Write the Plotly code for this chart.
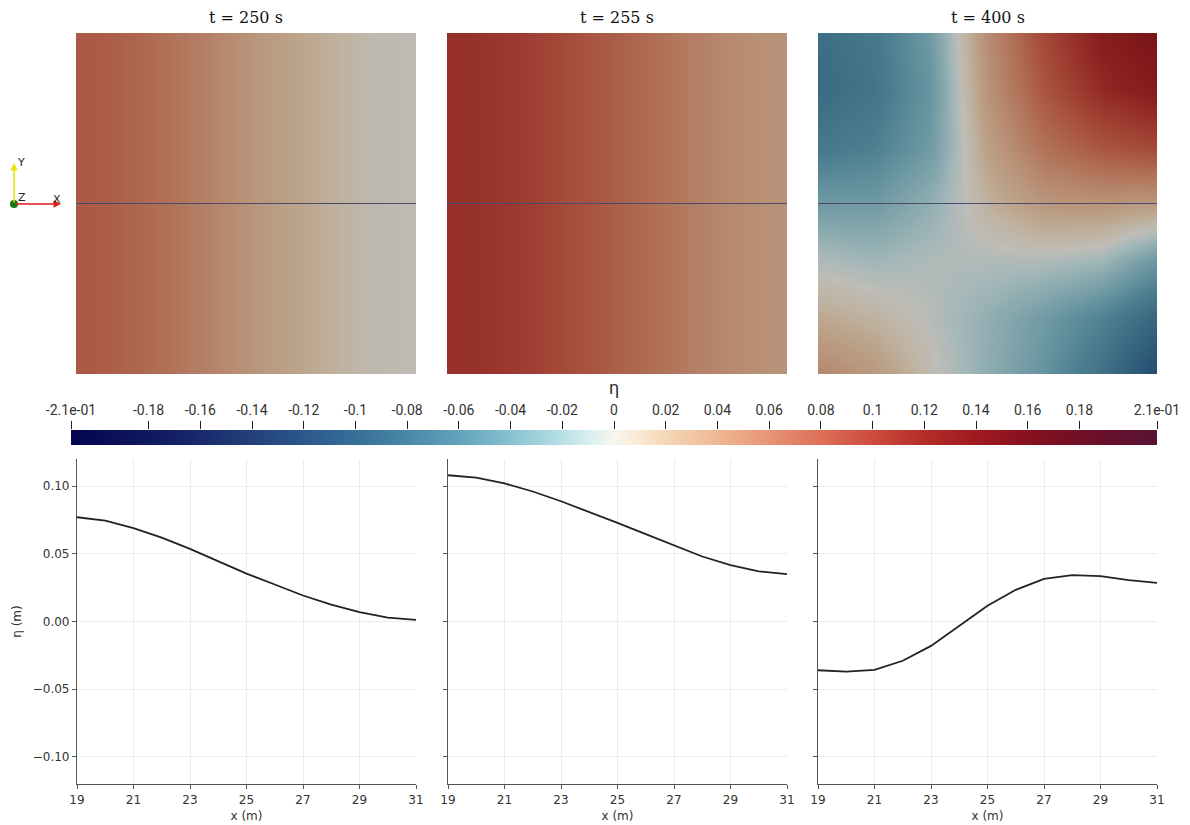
import plotly.graph_objects as go

W, H = 1190, 825

# ---------------- data ----------------
x_probe = [19, 20, 21, 22, 23, 24, 25, 26, 27, 28, 29, 30, 31]
eta_250 = [0.077, 0.0745, 0.069, 0.0619, 0.0536, 0.0445, 0.0354, 0.0273, 0.0192, 0.0125, 0.0069, 0.0028, 0.0012]
eta_255 = [0.108, 0.1063, 0.102, 0.096, 0.0888, 0.081, 0.0728, 0.0645, 0.0563, 0.048, 0.0416, 0.037, 0.035]
eta_400 = [-0.036, -0.037, -0.0357, -0.029, -0.018, -0.0034, 0.0116, 0.0234, 0.0315, 0.0342, 0.0335, 0.0305, 0.0285]

titles = ["t = 250 s", "t = 255 s", "t = 400 s"]

# surface field (top views): columns along x, rows along y
field_y_250 = [-6, 6]
field_250 = [eta_250, eta_250]
field_y_255 = [-6, 6]
field_255 = [eta_255, eta_255]

field_x_400 = [19, 21, 23, 25, 27, 29, 31]
field_y_400 = [-6, -4, -2, 0, 2, 4, 6]
field_400 = [
    [0.045, 0.030, 0.003, -0.020, -0.042, -0.072, -0.110],
    [0.018, 0.010, -0.003, -0.018, -0.035, -0.055, -0.082],
    [-0.006, -0.012, -0.006, -0.005, -0.005, -0.011, -0.038],
    [-0.036, -0.0357, -0.018, 0.0116, 0.0315, 0.0335, 0.0285],
    [-0.065, -0.058, -0.035, 0.025, 0.060, 0.080, 0.090],
    [-0.078, -0.068, -0.040, 0.035, 0.080, 0.112, 0.128],
    [-0.075, -0.065, -0.035, 0.040, 0.090, 0.125, 0.140],
]

# colour map of eta
eta_min, eta_max = -0.21, 0.21
cmap_vals = [-0.21, -0.18, -0.16, -0.14, -0.12, -0.10, -0.08, -0.06, -0.04, -0.02, -0.01, 0.0,
             0.01, 0.02, 0.04, 0.06, 0.08, 0.10, 0.12, 0.14, 0.16, 0.18, 0.21]
cmap_cols = ['#05054f', '#0f195d', '#19296b', '#23407c', '#2c588b', '#376f98', '#4a88a8', '#62a3bb',
             '#88c2d1', '#b8e0e6', '#d6eff1', '#f8f6ee', '#f9e9d3', '#f5d7b7', '#efb794', '#e69474',
             '#dc6f57', '#cc4b3d', '#b52c29', '#9e1a1f', '#86111f', '#701026', '#571235']
cb_tickvals = [-0.21, -0.18, -0.16, -0.14, -0.12, -0.10, -0.08, -0.06, -0.04, -0.02, 0,
               0.02, 0.04, 0.06, 0.08, 0.10, 0.12, 0.14, 0.16, 0.18, 0.21]
cb_ticktext = ["-2.1e-01", "-0.18", "-0.16", "-0.14", "-0.12", "-0.1", "-0.08", "-0.06", "-0.04", "-0.02", "0",
               "0.02", "0.04", "0.06", "0.08", "0.1", "0.12", "0.14", "0.16", "0.18", "2.1e-01"]

y_ticks = [-0.10, -0.05, 0.0, 0.05, 0.10]
x_ticks = [19, 21, 23, 25, 27, 29, 31]

# ---------------- layout helpers ----------------
def px(v):
    return v / W

def py(v):
    return 1 - v / H

colorscale = [[(v - eta_min) / (eta_max - eta_min), c] for v, c in zip(cmap_vals, cmap_cols)]

col_px = [(76, 416), (447, 787), (818, 1157)]
top_y = (33, 374)
bot_cols = [(77, 416), (448, 787), (818, 1157)]
bot_y = (459, 784)

fig = go.Figure()
layout = dict(width=W, height=H, margin=dict(l=0, r=0, t=0, b=0),
              paper_bgcolor="white", plot_bgcolor="white", showlegend=False)
shapes = []
annotations = []

# ---- top views (axes 1..3) ----
fields = [(x_probe, field_y_250, field_250), (x_probe, field_y_255, field_255),
          (field_x_400, field_y_400, field_400)]
for i, (fx, fy, fz) in enumerate(fields):
    n = i + 1
    xa = "x" if n == 1 else f"x{n}"
    ya = "y" if n == 1 else f"y{n}"
    fig.add_trace(go.Heatmap(x=fx, y=fy, z=fz, colorscale=colorscale, zmin=eta_min, zmax=eta_max,
                             zsmooth="best", showscale=False, opacity=0.77,
                             xaxis=xa, yaxis=ya, hoverinfo="skip"))
    # probe line along the centre
    fig.add_trace(go.Scatter(x=[x_probe[0], x_probe[-1]], y=[0, 0], mode="lines",
                             line=dict(color="#4a4a6c", width=1), xaxis=xa, yaxis=ya, hoverinfo="skip"))
    layout["xaxis" if n == 1 else f"xaxis{n}"] = dict(domain=[px(col_px[i][0]), px(col_px[i][1])],
                                                      range=[19, 31], visible=False, anchor=ya)
    layout["yaxis" if n == 1 else f"yaxis{n}"] = dict(domain=[py(top_y[1]), py(top_y[0])],
                                                      range=[-6, 6], visible=False, anchor=xa)
    shapes.append(dict(type="rect", xref="paper", yref="paper", layer="below",
                       x0=px(col_px[i][0]), x1=px(col_px[i][1]), y0=py(top_y[1]), y1=py(top_y[0]),
                       fillcolor="black", line=dict(width=0)))
    annotations.append(dict(text=titles[i], xref="paper", yref="paper",
                            x=px((col_px[i][0] + col_px[i][1]) / 2), y=py(17),
                            xanchor="center", yanchor="middle", showarrow=False,
                            font=dict(family="DejaVu Serif", size=16, color="#111")))

# ---- colour bar (axis 4) ----
fig.add_trace(go.Heatmap(x=[eta_min, eta_max], y=[0, 1], z=[[eta_min, eta_max], [eta_min, eta_max]],
                         colorscale=colorscale, zmin=eta_min, zmax=eta_max, zsmooth="best",
                         showscale=False, xaxis="x4", yaxis="y4", hoverinfo="skip"))
layout["xaxis4"] = dict(domain=[px(71), px(1157)], range=[eta_min, eta_max], side="top", anchor="y4",
                        tickmode="array", tickvals=cb_tickvals, ticktext=cb_ticktext,
                        ticks="outside", ticklen=8, tickwidth=1, tickcolor="#222",
                        tickfont=dict(family="Roboto", size=14, color="#333"),
                        showgrid=False, zeroline=False, showline=False, automargin=False)
layout["yaxis4"] = dict(domain=[py(445), py(430)], range=[0, 1], visible=False, anchor="x4")
annotations.append(dict(text="η", xref="paper", yref="paper", x=px(614), y=py(387),
                        showarrow=False, xanchor="center", yanchor="middle",
                        font=dict(family="Roboto", size=18, color="#333")))

# ---- profiles (axes 5..7) ----
profiles = [eta_250, eta_255, eta_400]
for i, prof in enumerate(profiles):
    n = i + 5
    xa, ya = f"x{n}", f"y{n}"
    fig.add_trace(go.Scatter(x=x_probe, y=prof, mode="lines", line=dict(color="#222", width=1.8),
                             xaxis=xa, yaxis=ya))
    layout[f"xaxis{n}"] = dict(domain=[px(bot_cols[i][0]), px(bot_cols[i][1])], range=[19, 31],
                               anchor=ya, tickmode="array", tickvals=x_ticks,
                               ticks="outside", ticklen=4, tickcolor="#555",
                               showline=True, linecolor="#555", linewidth=1.2,
                               showgrid=True, gridcolor="#ececec", gridwidth=1, zeroline=False,
                               tickfont=dict(family="DejaVu Sans", size=12, color="#333"),
                               title=dict(text="x (m)", standoff=6,
                                          font=dict(family="DejaVu Sans", size=12, color="#333")),
                               automargin=False)
    layout[f"yaxis{n}"] = dict(domain=[py(bot_y[1]), py(bot_y[0])], range=[-0.12, 0.12],
                               anchor=xa, tickmode="array", tickvals=y_ticks, tickformat=".2f",
                               ticks="outside", ticklen=4, tickcolor="#555",
                               showline=True, linecolor="#555", linewidth=1.2,
                               showgrid=True, gridcolor="#ececec", gridwidth=1, zeroline=False,
                               showticklabels=(i == 0),
                               tickfont=dict(family="DejaVu Sans", size=12, color="#333"),
                               title=dict(text="η (m)" if i == 0 else "", standoff=8,
                                          font=dict(family="DejaVu Sans", size=12, color="#333")),
                               automargin=False)

# ---- orientation triad ----
ox, oy = 14, 204
annotations.append(dict(x=px(ox), y=py(163), xref="paper", yref="paper", text="", showarrow=True,
                        axref="pixel", ayref="pixel", ax=0, ay=41, arrowhead=2, arrowsize=1,
                        arrowwidth=1.5, arrowcolor="#e6e600"))
annotations.append(dict(x=px(61), y=py(oy), xref="paper", yref="paper", text="", showarrow=True,
                        axref="pixel", ayref="pixel", ax=-47, ay=0, arrowhead=2, arrowsize=1,
                        arrowwidth=1.5, arrowcolor="#e61a1a"))
shapes.append(dict(type="circle", xref="paper", yref="paper", x0=px(ox - 4), x1=px(ox + 4),
                   y0=py(oy + 4), y1=py(oy - 4), fillcolor="#137a13", line=dict(width=0)))
for lbl, lx, ly in [("Y", 21, 163), ("Z", 22, 197), ("X", 57, 199)]:
    annotations.append(dict(text=lbl, x=px(lx), y=py(ly), xref="paper", yref="paper", showarrow=False,
                            xanchor="center", yanchor="middle",
                            font=dict(family="DejaVu Sans", size=11, color="#222")))

layout["shapes"] = shapes
layout["annotations"] = annotations
fig.update_layout(**layout)
fig.write_html("out.html")
